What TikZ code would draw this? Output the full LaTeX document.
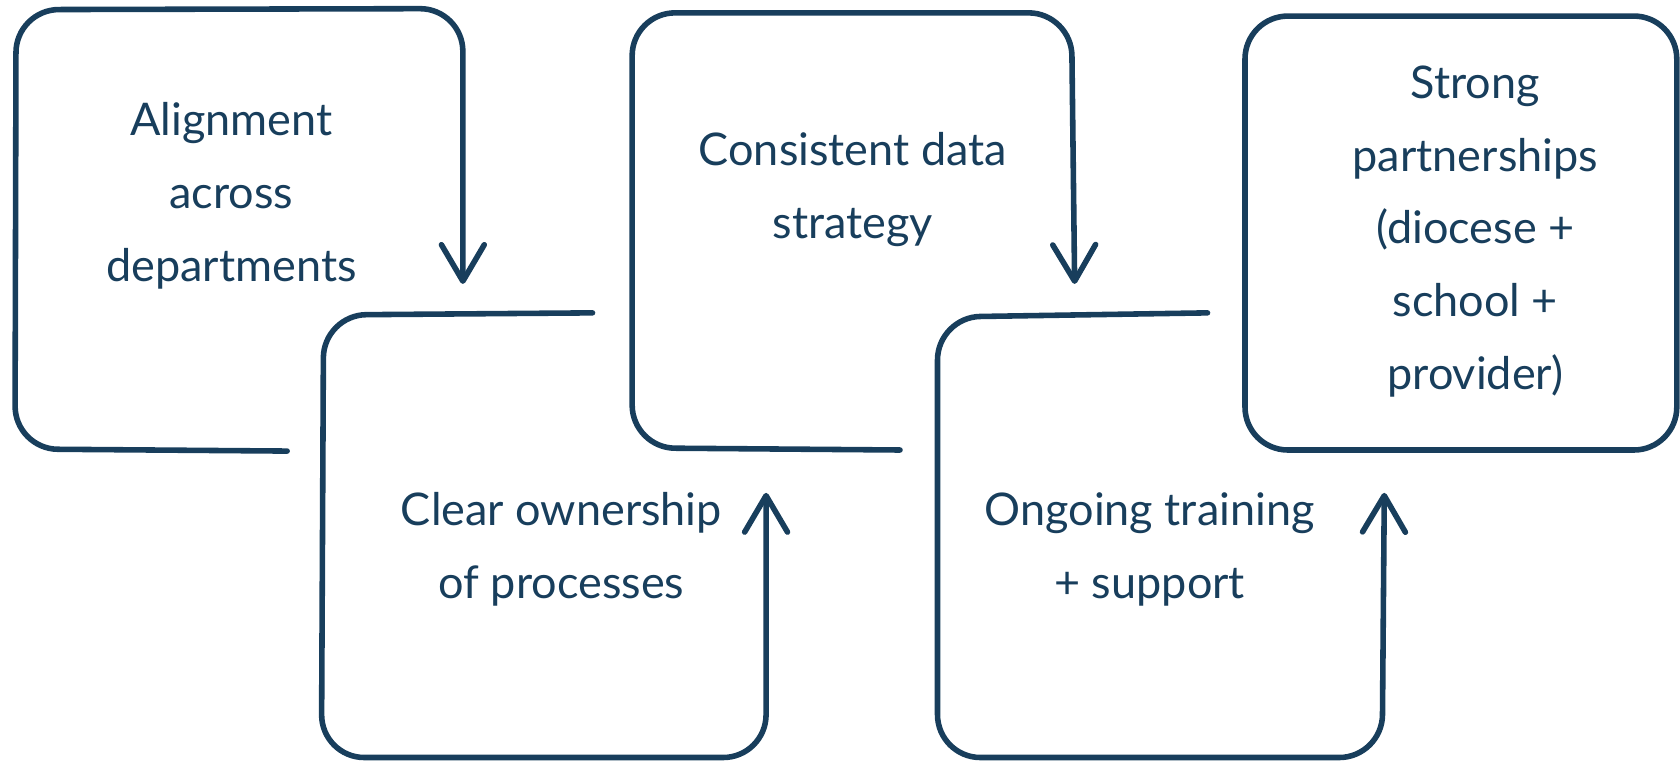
\documentclass[tikz,border=0pt]{standalone}
\usepackage{fontspec}
\setmainfont{Lato}
\usetikzlibrary{arrows.meta}
\definecolor{ink}{RGB}{24,62,92}
\begin{document}
\begin{tikzpicture}[x=1pt,y=-1pt,
  flow/.style={draw=ink,line width=5.2pt,line cap=round,line join=round,rounded corners=40pt},
  arr/.style={-{Straight Barb[length=34pt,width=40pt,line cap=round,line join=round]}},
  lbl/.style={text=ink,align=center,font=\fontsize{42}{68}\selectfont,inner sep=0pt}]
\useasboundingbox (0,0) rectangle (1568,712);
% endpoints
\coordinate (s1) at (268,421); \coordinate (e1) at (432,265);
\coordinate (s2) at (553,292); \coordinate (e2) at (715,460);
\coordinate (s3) at (840,420); \coordinate (e3) at (1003,265);
\coordinate (s4) at (1127,292); \coordinate (e4) at (1292,460);
% shapes
\draw[flow,arr] (s1) -- (14,419) -- (15,9) -- (432,8) -- (e1);
\draw[flow,arr] (s2) -- (302,294) -- (300,707) -- (715,707) -- (e2);
\draw[flow,arr] (s3) -- (590,418) -- (590,12) -- (1000,12) -- (e3);
\draw[flow,arr] (s4) -- (875,296) -- (875,707) -- (1290,707) -- (e4);
\node[flow,rectangle,minimum width=403pt,minimum height=405pt,inner sep=0pt] (b5) at (1363.5,217.5) {};
% labels
\node[lbl] (t1) at (216,183) {Alignment\\across\\departments};
\node[lbl] (t2) at (524,512.5) {Clear ownership\\of processes};
\node[lbl] (t3) at (796,177) {Consistent data\\strategy};
\node[lbl] (t4) at (1073,512.5) {Ongoing training\\+ support};
\node[lbl] (t5) at (1377,216) {Strong\\partnerships\\(diocese +\\school +\\provider)};
\end{tikzpicture}
\end{document}
